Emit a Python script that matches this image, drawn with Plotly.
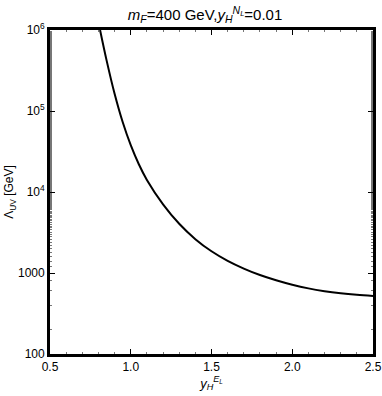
import plotly.graph_objects as go

# Data
y_el = [0.81, 0.85, 0.9, 0.95, 1.0, 1.05, 1.1, 1.2, 1.3, 1.4, 1.5, 1.6, 1.7, 1.8, 1.9,
        2.0, 2.1, 2.2, 2.3, 2.4, 2.5]
lambda_uv = [1.0e6, 4.25e5, 1.63e5, 7.3e4, 3.78e4, 2.2e4, 1.41e4, 7050, 4055, 2618, 1854, 1413,
             1135, 944, 813, 716, 646, 597, 562, 537, 519]

x_ticks = [0.5, 1.0, 1.5, 2.0, 2.5]
x_tick_labels = ["0.5", "1.0", "1.5", "2.0", "2.5"]
y_ticks = [100, 1000, 1e4, 1e5, 1e6]
y_tick_labels = ["100", "1000", "10<sup>4</sup>", "10<sup>5</sup>", "10<sup>6</sup>"]

fig = go.Figure()
fig.add_trace(go.Scatter(x=y_el, y=lambda_uv, mode="lines",
                         line=dict(color="black", width=2, shape="spline", smoothing=1.0),
                         showlegend=False))

font = "Liberation Sans, Arial, sans-serif"
fig.update_layout(
    width=382, height=396,
    margin=dict(l=50, r=9, t=30, b=42),
    paper_bgcolor="white", plot_bgcolor="white",
    font=dict(family=font, size=12, color="black"),
    title=dict(
        text="<i>m</i><sub><i>F</i></sub>=400 GeV,<i>y</i><sub><i>H</i></sub><sup><i>N<sub>L</sub></i></sup>=0.01",
        xref="paper", x=0.48, xanchor="center", yref="container", y=1 - 15 / 396, yanchor="middle",
        font=dict(size=15, family=font)),
)
fig.update_xaxes(
    range=[0.5, 2.5], tickvals=x_ticks, ticktext=x_tick_labels, automargin=False,
    ticks="inside", ticklen=5, tickwidth=1, tickcolor="black",
    showline=True, linecolor="black", linewidth=2.8, mirror="ticks",
    showgrid=False, zeroline=False,
    minor=dict(ticks="inside", ticklen=2.5, dtick=0.1, tickcolor="#777", showgrid=False),
    title=dict(text="<i>y</i><sub><i>H</i></sub><sup><i>E<sub>L</sub></i></sup>", standoff=2,
               font=dict(size=13)),
)
fig.update_yaxes(
    type="log", range=[2, 6], tickvals=y_ticks, ticktext=y_tick_labels, automargin=False,
    ticks="inside", ticklen=5, tickwidth=1, tickcolor="black",
    showline=True, linecolor="black", linewidth=2.8, mirror="ticks",
    showgrid=False, zeroline=False,
    minor=dict(ticks="inside", ticklen=2.5, tickcolor="#777", showgrid=False),
    title=dict(text="Λ<sub>UV</sub> [GeV]", standoff=2, font=dict(size=12)),
)

fig.write_html("out.html", config={"displayModeBar": False},
               post_script="document.body.style.margin='0';document.body.style.overflow='hidden';")
